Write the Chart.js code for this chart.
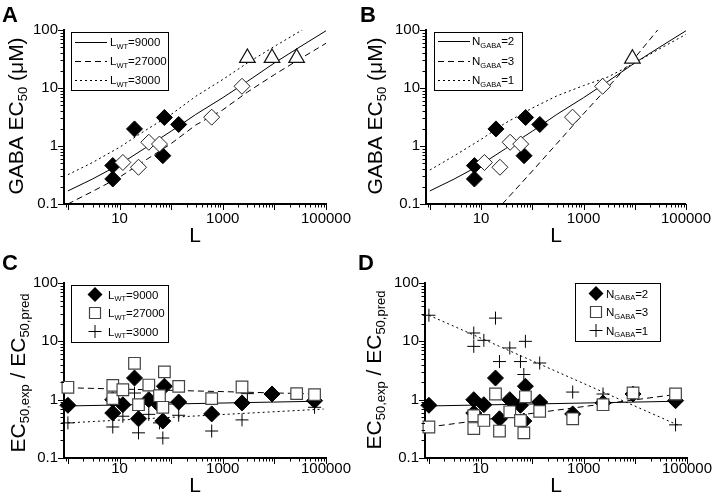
<!DOCTYPE html>
<html>
<head>
<meta charset="utf-8">
<script src="https://cdn.jsdelivr.net/npm/chart.js@4.4.1/dist/chart.umd.min.js"></script>
<style>
  body { margin: 0; background: #fff; }
  #wrap { position: relative; width: 717px; height: 501px; }
  canvas { position: absolute; }
</style>
</head>
<body>
<div id="wrap">
  <canvas id="panelA" width="358" height="250" style="left:0;top:0"></canvas>
  <canvas id="panelB" width="359" height="250" style="left:358px;top:0"></canvas>
  <canvas id="panelC" width="358" height="251" style="left:0;top:250px"></canvas>
  <canvas id="panelD" width="359" height="251" style="left:358px;top:250px"></canvas>
</div>
<script>
// axis ranges and labelled ticks
const X_MIN = 0.84, X_MAX = 100000;
const Y_MIN = 0.1, Y_MAX = 100;
const xTickLabels = [10, 1000, 100000];
const yTickLabels = [0.1, 1, 10, 100];

// A / B: measured GABA EC50 (uM) vs L
const filledL = [7.4, 7.4, 19.5, 69, 74, 140];
const filledEC = [0.46, 0.27, 1.97, 0.68, 3.1, 2.35];
const openL = [11.6, 23.3, 36.9, 59.4, 610, 2360];
const openEC = [0.52, 0.43, 1.16, 1.08, 3.14, 10.7];
const wtL_A = [3000, 9000, 27000];
const wtEC_A = [33, 33, 33];
const wtL_B = [9000];
const wtEC_B = [32];

// model curves
const curveL = [1, 3, 10, 30, 100, 300, 1000, 3000, 10000, 30000, 100000];
const fitWT9000 = [0.168, 0.27, 0.48, 0.9, 1.8, 3.5, 6.8, 13, 27, 50, 97];
const fitWT27000 = [0.10, 0.165, 0.29, 0.55, 1.1, 2.3, 4.2, 8.5, 17, 31, 59];
const dotL_A = [1, 3, 10, 30, 100, 300, 1000, 3000, 10000, 30000, 35000];
const fitWT3000 = [0.32, 0.52, 0.95, 1.8, 3.5, 7.2, 14, 27, 52, 93, 100];
const fitN2 = fitWT9000;
const dashL_B = [26, 100, 1000, 10000, 28000];
const fitN3 = [0.1, 0.37, 3.6, 33, 100];
const fitN1 = [0.385, 0.68, 1.3, 2.5, 4.5, 7.3, 11, 15.5, 27, 47, 84];

// C / D: EC50,exp / EC50,pred
const ratioL = [1, 7.4, 7.4, 11.6, 19.5, 23.3, 36.9, 59.4, 69, 74, 140, 610, 2360, 60000];
const ratio9000 = [0.80, 1.0, 0.59, 0.82, 2.35, 0.47, 1.0, 0.8, 0.43, 1.7, 0.91, 0.57, 0.88, 0.96];
const ratio27000 = [1.63, 1.76, 1.04, 1.48, 4.2, 0.82, 1.78, 1.17, 0.74, 3.0, 1.69, 1.04, 1.65, 1.22];
const ratio3000 = [0.40, 0.57, 0.34, 0.52, 1.3, 0.27, 0.56, 0.4, 0.22, 0.9, 0.54, 0.29, 0.45, 0.74];
const ratioN3 = [0.34, 0.53, 0.32, 0.44, 1.25, 0.29, 0.62, 0.44, 0.27, 1.12, 0.63, 0.47, 0.82, 1.25];
const ratioN1 = [28, 13.9, 8.2, 10.4, 25, 4.5, 7.7, 4.5, 2.7, 10, 4.25, 1.35, 1.25, 0.37];
// wild type points in C and D
const wtRatioL_C = [9000, 27000, 3000];
const wtRatio_C = [1.25, 1.27, 1.27];
const wtRatioL_D = [9000, 9000, 9000];
const wtRatio_D = [1.25, 1.3, 1.2];

// straight fits in C / D
const ratioFitL = [1, 70000];
const ratioFitL3000 = [1, 90000];
const cFit9000 = [0.78, 0.94];
const cFit27000 = [1.6, 1.25];
const cFit3000 = [0.40, 0.69];
const dFitN2 = [0.78, 0.94];
const dFitN3 = [0.34, 1.25];
const dFitN1 = [28, 0.36];

const FONT = '"Liberation Sans", Arial, sans-serif';
Chart.defaults.font.family = FONT;
Chart.defaults.color = '#000';

const DASH = [6, 4], DOT = [2, 3];

function xy(xs, ys) {
  return xs.map((x, i) => ({ x: x, y: ys[i] }));
}

function curve(xs, ys, dash) {
  return { data: xy(xs, ys), showLine: true, pointRadius: 0, borderColor: '#000',
           borderWidth: 1, borderDash: dash, fill: false };
}

const styles = {
  filledDiamond: { pointStyle: 'rectRot', pointRadius: 8, pointBackgroundColor: '#000', pointBorderColor: '#000', pointBorderWidth: 1 },
  openDiamond: { pointStyle: 'rectRot', pointRadius: 8, pointBackgroundColor: '#fff', pointBorderColor: '#222', pointBorderWidth: 1 },
  triangle: { pointStyle: 'triangle', pointRadius: 9, pointBackgroundColor: '#fff', pointBorderColor: '#111', pointBorderWidth: 1.2 },
  square: { pointStyle: 'rect', pointRadius: 8.2, pointBackgroundColor: '#fff', pointBorderColor: '#444', pointBorderWidth: 1.2 },
  cross: { pointStyle: 'cross', pointRadius: 6.5, pointBorderColor: '#000', pointBorderWidth: 1 }
};

function marks(xs, ys, style) {
  return Object.assign({ data: xy(xs, ys), showLine: false, clip: false, pointHoverRadius: 0 }, styles[style]);
}

function logTicks(min, max) {
  const out = [];
  for (let e = Math.floor(Math.log10(min)); e <= Math.ceil(Math.log10(max)); e++) {
    for (let m = 1; m <= 9; m++) {
      const v = parseFloat((m * Math.pow(10, e)).toPrecision(4));
      if (v >= min && v <= max) out.push({ value: v, major: m === 1 });
    }
  }
  return out;
}

function tickText(v, labels) {
  return labels.some(l => Math.abs(l - v) < l * 1e-6) ? String(v) : '';
}

// text with subscripts, baseline at y
function drawRich(ctx, parts, x, y, size, subSize, subShift) {
  let cx = x;
  parts.forEach(p => {
    ctx.font = (p.sub ? subSize : size) + 'px ' + FONT;
    ctx.fillText(p.t, cx, p.sub ? y + subShift : y);
    cx += ctx.measureText(p.t).width;
  });
  return cx - x;
}

function richWidth(ctx, parts, size, subSize) {
  let w = 0;
  parts.forEach(p => {
    ctx.font = (p.sub ? subSize : size) + 'px ' + FONT;
    w += ctx.measureText(p.t).width;
  });
  return w;
}

function drawMarker(ctx, kind, x, y) {
  ctx.save();
  ctx.beginPath();
  if (kind === 'diamond') {
    const r = 7.5;
    ctx.moveTo(x - r, y); ctx.lineTo(x, y - r); ctx.lineTo(x + r, y); ctx.lineTo(x, y + r);
    ctx.closePath();
    ctx.fillStyle = '#000'; ctx.fill();
  } else if (kind === 'square') {
    ctx.rect(x - 5.5, y - 5.5, 11, 11);
    ctx.fillStyle = '#fff'; ctx.fill();
    ctx.strokeStyle = '#444'; ctx.lineWidth = 1.2; ctx.stroke();
  } else {
    ctx.moveTo(x - 6.5, y); ctx.lineTo(x + 6.5, y);
    ctx.moveTo(x, y - 6.5); ctx.lineTo(x, y + 6.5);
    ctx.strokeStyle = '#000'; ctx.lineWidth = 1; ctx.stroke();
  }
  ctx.restore();
}

function drawTickMarks(ctx, scale, axis) {
  const area = scale.chart.chartArea;
  ctx.strokeStyle = '#000';
  ctx.lineWidth = 1;
  ctx.setLineDash([]);
  ctx.beginPath();
  scale.ticks.forEach(t => {
    const p = Math.round(scale.getPixelForValue(t.value)) + 0.5;
    const len = t.major ? 6 : 3.5;
    if (axis === 'x') { ctx.moveTo(p, area.bottom); ctx.lineTo(p, area.bottom + len); }
    else { ctx.moveTo(area.left, p); ctx.lineTo(area.left - len, p); }
  });
  ctx.stroke();
}

// legend text pieces
const lwt = v => [{ t: 'L' }, { t: 'WT', sub: true }, { t: '=' + v }];
const ngaba = v => [{ t: 'N' }, { t: 'GABA', sub: true }, { t: '=' + v }];
const titleEC = [{ t: 'GABA EC' }, { t: '50', sub: true }, { t: ' (\u03bcM)' }];
const titleRatio = [{ t: 'EC' }, { t: '50,exp', sub: true }, { t: ' / EC' }, { t: '50,pred', sub: true }];

const decoByChart = {
  panelA: {
    letter: 'A', letterPos: [2, 22], title: titleEC, titlePos: [22.5, 116],
    legend: { box: [71, 32, 168, 90], rowY: [42, 61, 80], sampleX: [75, 107], textX: 110,
              rows: [{ line: [], label: lwt(9000) }, { line: DASH, label: lwt(27000) }, { line: DOT, label: lwt(3000) }] }
  },
  panelB: {
    letter: 'B', letterPos: [2, 22], title: titleEC, titlePos: [23.5, 116],
    legend: { box: [76, 32, 164, 90], rowY: [41, 61, 80], sampleX: [80, 112], textX: 114,
              rows: [{ line: [], label: ngaba(2) }, { line: DASH, label: ngaba(3) }, { line: DOT, label: ngaba(1) }] }
  },
  panelC: {
    letter: 'C', letterPos: [2, 20], title: titleRatio, titlePos: [25, 123],
    legend: { box: [71, 35, 168, 92], rowY: [44.5, 63, 81.5], markerX: 95, textX: 108,
              rows: [{ marker: 'diamond', label: lwt(9000) }, { marker: 'square', label: lwt(27000) }, { marker: 'cross', label: lwt(3000) }] }
  },
  panelD: {
    letter: 'D', letterPos: [0, 20], title: titleRatio, titlePos: [22.5, 120],
    legend: { box: [217, 33, 302, 91], rowY: [43.5, 62, 80.5], markerX: 238, textX: 248,
              rows: [{ marker: 'diamond', label: ngaba(2) }, { marker: 'square', label: ngaba(3) }, { marker: 'cross', label: ngaba(1) }] }
  }
};

const deco = {
  id: 'deco',
  afterDraw(chart) {
    const d = decoByChart[chart.canvas.id];
    const ctx = chart.ctx;
    ctx.save();
    drawTickMarks(ctx, chart.scales.x, 'x');
    drawTickMarks(ctx, chart.scales.y, 'y');

    ctx.fillStyle = '#000';
    ctx.textBaseline = 'alphabetic';
    ctx.textAlign = 'left';
    ctx.font = 'bold 22px ' + FONT;
    ctx.fillText(d.letter, d.letterPos[0], d.letterPos[1]);

    // rotated y title
    ctx.save();
    ctx.translate(d.titlePos[0], d.titlePos[1]);
    ctx.rotate(-Math.PI / 2);
    const w = richWidth(ctx, d.title, 21, 13);
    drawRich(ctx, d.title, -w / 2, 0, 21, 13, 4);
    ctx.restore();

    // legend
    const lg = d.legend;
    ctx.strokeStyle = '#000';
    ctx.lineWidth = 1;
    ctx.setLineDash([]);
    ctx.strokeRect(lg.box[0] + 0.5, lg.box[1] + 0.5, lg.box[2] - lg.box[0], lg.box[3] - lg.box[1]);
    lg.rows.forEach((row, i) => {
      const y = lg.rowY[i];
      if (row.line) {
        ctx.beginPath();
        ctx.setLineDash(row.line);
        ctx.moveTo(lg.sampleX[0], Math.round(y) + 0.5);
        ctx.lineTo(lg.sampleX[1], Math.round(y) + 0.5);
        ctx.stroke();
        ctx.setLineDash([]);
      } else {
        drawMarker(ctx, row.marker, lg.markerX, y);
      }
      ctx.fillStyle = '#000';
      drawRich(ctx, row.label, lg.textX, y + 4, 11.5, 7.5, 2.5);
    });
    ctx.restore();
  }
};

function makePanel(id, datasets, lay) {
  new Chart(document.getElementById(id), {
    type: 'scatter',
    data: { datasets: datasets },
    options: {
      responsive: false,
      animation: false,
      devicePixelRatio: 1,
      events: [],
      layout: { padding: { top: lay.top, right: lay.right, left: 0, bottom: 0 } },
      plugins: { legend: { display: false }, tooltip: { enabled: false } },
      scales: {
        x: {
          type: 'logarithmic', min: X_MIN, max: X_MAX,
          afterBuildTicks: s => { s.ticks = logTicks(X_MIN, X_MAX); },
          afterFit: s => { s.height = lay.xHeight; },
          ticks: { autoSkip: false, maxRotation: 0, padding: lay.xPad, font: { size: 15 },
                   callback: v => tickText(v, xTickLabels) },
          grid: { display: false, drawTicks: false },
          border: { display: true, color: '#000', width: 2 },
          title: { display: true, text: 'L', font: { size: 21 }, padding: { top: 0, bottom: lay.titlePad } }
        },
        y: {
          type: 'logarithmic', min: Y_MIN, max: Y_MAX,
          afterBuildTicks: s => { s.ticks = logTicks(Y_MIN, Y_MAX); },
          afterFit: s => { s.width = lay.yWidth; },
          ticks: { autoSkip: false, padding: 6, font: { size: 15 },
                   callback: v => tickText(v, yTickLabels) },
          grid: { display: false, drawTicks: false },
          border: { display: true, color: '#000', width: 2 }
        }
      }
    },
    plugins: [deco]
  });
}

makePanel('panelA', [
  marks(wtL_A, wtEC_A, 'triangle'),
  marks(openL, openEC, 'openDiamond'),
  marks(filledL, filledEC, 'filledDiamond'),
  curve(curveL, fitWT9000, []),
  curve(curveL, fitWT27000, DASH),
  curve(dotL_A, fitWT3000, DOT)
], { top: 30, right: 32, yWidth: 64, xHeight: 46, xPad: 6, titlePad: 1 });

makePanel('panelB', [
  marks(wtL_B, wtEC_B, 'triangle'),
  marks(openL, openEC, 'openDiamond'),
  marks(filledL, filledEC, 'filledDiamond'),
  curve(curveL, fitN2, []),
  curve(dashL_B, fitN3, DASH),
  curve(curveL, fitN1, DOT)
], { top: 30, right: 29, yWidth: 68, xHeight: 46, xPad: 6, titlePad: 1 });

makePanel('panelC', [
  marks(ratioL.concat([wtRatioL_C[1]]), ratio27000.concat([wtRatio_C[1]]), 'square'),
  marks(ratioL.concat([wtRatioL_C[2]]), ratio3000.concat([wtRatio_C[2]]), 'cross'),
  marks(ratioL.concat([wtRatioL_C[0]]), ratio9000.concat([wtRatio_C[0]]), 'filledDiamond'),
  curve(ratioFitL, cFit9000, []),
  curve(ratioFitL, cFit27000, DASH),
  curve(ratioFitL3000, cFit3000, DOT)
], { top: 33, right: 32, yWidth: 64, xHeight: 43, xPad: 2, titlePad: 2 });

makePanel('panelD', [
  marks(ratioL.concat([wtRatioL_D[1]]), ratioN3.concat([wtRatio_D[1]]), 'square'),
  marks(ratioL.concat([wtRatioL_D[2]]), ratioN1.concat([wtRatio_D[2]]), 'cross'),
  marks(ratioL.concat([wtRatioL_D[0]]), ratio9000.concat([wtRatio_D[0]]), 'filledDiamond'),
  curve(ratioFitL, dFitN2, []),
  curve(ratioFitL, dFitN3, DASH),
  curve(ratioFitL, dFitN1, DOT)
], { top: 33, right: 30, yWidth: 67, xHeight: 43, xPad: 2, titlePad: 2 });
</script>
</body>
</html>
